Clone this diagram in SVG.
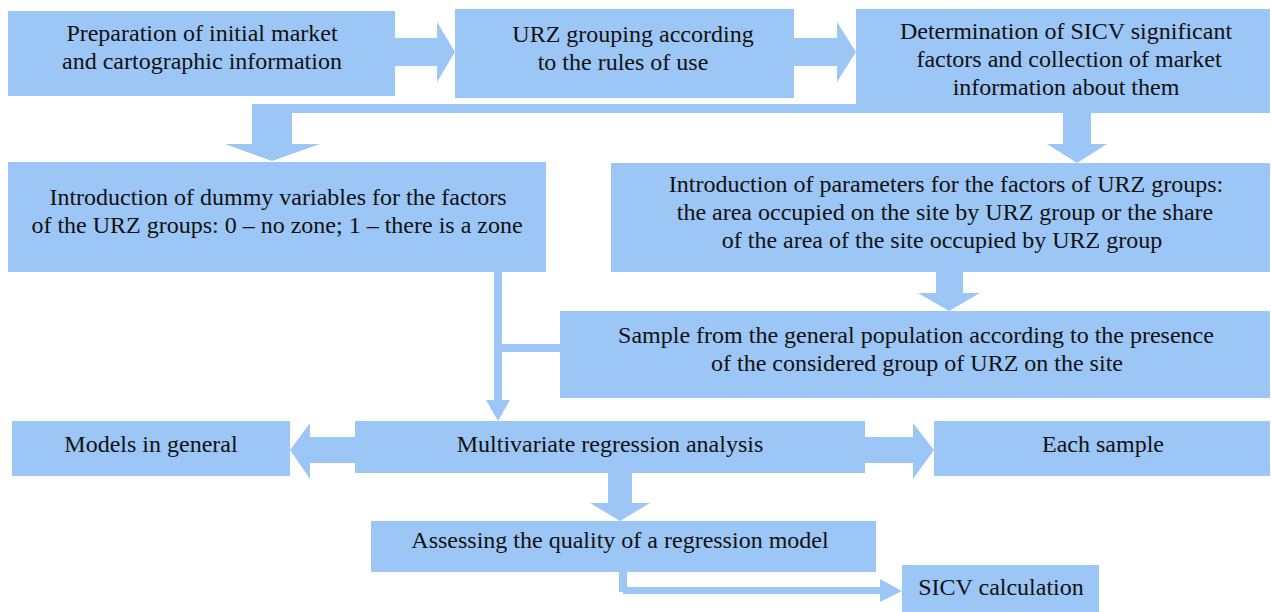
<svg xmlns="http://www.w3.org/2000/svg" width="1271" height="612" viewBox="0 0 1271 612">
  <style>
    .box { fill: #9CC6F5; }
    .arrow { fill: #9CC6F5; }
    .lbl { font-family: "Liberation Serif", "Times New Roman", serif; font-size: 24px; fill: #111; text-anchor: middle; }
  </style>
  <rect width="1271" height="612" fill="#ffffff"/>

  <!-- connectors: block arrows and bars -->
  <g id="connectors">
    <!-- top row: box1 -> box2 -> box3 -->
    <polygon class="arrow" points="394,38 437,38 437,22 455,52 437,82 437,66 394,66"/>
    <polygon class="arrow" points="793,38 837,38 837,22 856,52 837,82 837,66 793,66"/>
    <!-- box3 -> dummy variables (left branch) -->
    <polygon class="arrow" points="252,104 856,104 856,113 292,113 292,144 320,144 272,161 225,144 252,144"/>
    <!-- box3 -> parameters (right branch) -->
    <polygon class="arrow" points="1063,112 1091,112 1091,144 1107,144 1077,163 1047,144 1063,144"/>
    <!-- parameters -> sample -->
    <polygon class="arrow" points="936,271 963,271 963,293 980,293 949,311 918,293 936,293"/>
    <!-- dummy variables -> regression, with branch from sample -->
    <rect class="arrow" x="494" y="271" width="8" height="130"/>
    <rect class="arrow" x="501" y="344" width="60" height="8"/>
    <polygon class="arrow" points="486,400 510,400 498,421"/>
    <!-- regression -> models in general -->
    <polygon class="arrow" points="356,437 310,437 310,423 290,450 310,479 310,463 356,463"/>
    <!-- regression -> each sample -->
    <polygon class="arrow" points="864,437 913,437 913,423 934,450 913,479 913,463 864,463"/>
    <!-- regression -> assessing quality -->
    <polygon class="arrow" points="608,472 632,472 632,503 650,503 620,521 590,503 608,503"/>
    <!-- assessing quality -> SICV calculation -->
    <rect class="arrow" x="619" y="572" width="8" height="20"/>
    <rect class="arrow" x="623" y="587" width="258" height="7"/>
    <polygon class="arrow" points="880,579 902,591 880,602"/>
  </g>

  <g id="prep">
    <rect class="box" x="8" y="11" width="387" height="85"/>
    <text class="lbl" x="202" y="41">Preparation of initial market</text>
    <text class="lbl" x="202" y="69">and cartographic information</text>
  </g>

  <g id="grouping">
    <rect class="box" x="455" y="9" width="339" height="89"/>
    <text class="lbl" x="633" y="42">URZ grouping according</text>
    <text class="lbl" x="623" y="70">to the rules of use</text>
  </g>

  <g id="factors">
    <rect class="box" x="856" y="9" width="414" height="104"/>
    <text class="lbl" x="1066" y="39">Determination of SICV significant</text>
    <text class="lbl" x="1069" y="67">factors and collection of market</text>
    <text class="lbl" x="1066" y="95">information about them</text>
  </g>

  <g id="dummy">
    <rect class="box" x="8" y="162" width="538" height="110"/>
    <text class="lbl" x="278" y="205">Introduction of dummy variables for the factors</text>
    <text class="lbl" x="277" y="233">of the URZ groups: 0 – no zone; 1 – there is a zone</text>
  </g>

  <g id="parameters">
    <rect class="box" x="611" y="163" width="659" height="109"/>
    <text class="lbl" x="946" y="192">Introduction of parameters for the factors of URZ groups:</text>
    <text class="lbl" x="945" y="220">the area occupied on the site by URZ group or the share</text>
    <text class="lbl" x="942" y="248">of the area of the site occupied by URZ group</text>
  </g>

  <g id="sample">
    <rect class="box" x="560" y="311" width="710" height="87"/>
    <text class="lbl" x="916" y="343">Sample from the general population according to the presence</text>
    <text class="lbl" x="917" y="371">of the considered group of URZ on the site</text>
  </g>

  <g id="models">
    <rect class="box" x="12" y="421" width="278" height="55"/>
    <text class="lbl" x="151" y="452">Models in general</text>
  </g>

  <g id="regression">
    <rect class="box" x="355" y="421" width="510" height="52"/>
    <text class="lbl" x="610" y="452">Multivariate regression analysis</text>
  </g>

  <g id="each-sample">
    <rect class="box" x="934" y="421" width="336" height="55"/>
    <text class="lbl" x="1103" y="452">Each sample</text>
  </g>

  <g id="quality">
    <rect class="box" x="371" y="521" width="505" height="51"/>
    <text class="lbl" x="620" y="548">Assessing the quality of a regression model</text>
  </g>

  <g id="sicv">
    <rect class="box" x="902" y="565" width="197" height="47"/>
    <text class="lbl" x="1001" y="595">SICV calculation</text>
  </g>
</svg>
